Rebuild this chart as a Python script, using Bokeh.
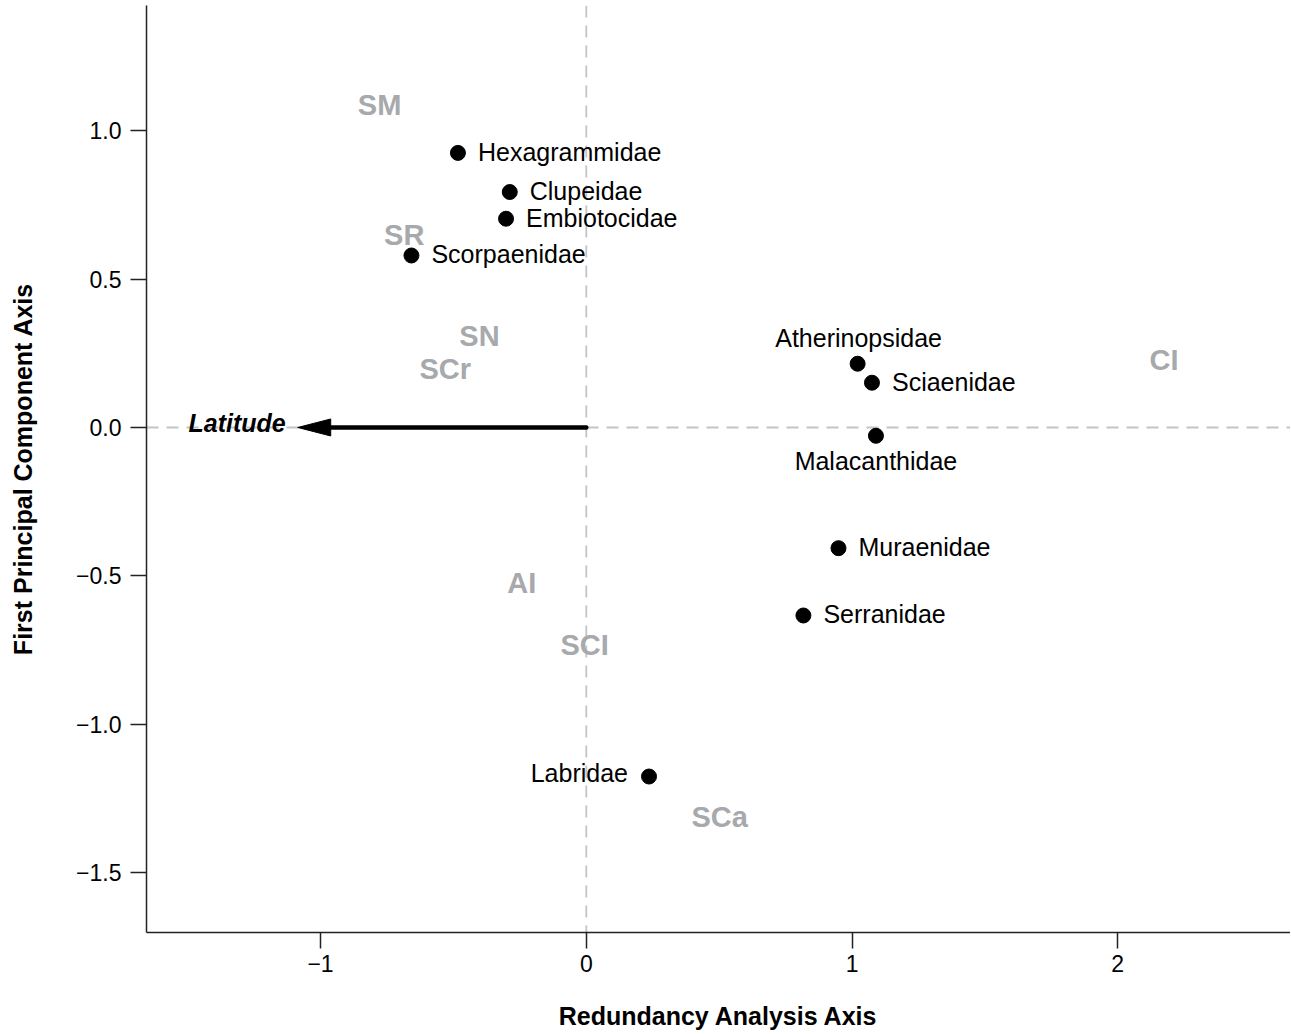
from bokeh.plotting import figure
from bokeh.models import ColumnDataSource, Range1d, FixedTicker, Span
from bokeh.core.properties import value
from bokeh.embed import file_html
from bokeh.resources import INLINE

# ---------------- data ----------------
species = ["Hexagrammidae", "Clupeidae", "Embiotocidae", "Scorpaenidae",
           "Atherinopsidae", "Sciaenidae", "Malacanthidae", "Muraenidae",
           "Serranidae", "Labridae"]
species_x = [-0.483, -0.288, -0.302, -0.658, 1.021, 1.075, 1.090, 0.949, 0.817, 0.236]
species_y = [0.926, 0.794, 0.704, 0.580, 0.215, 0.151, -0.028, -0.407, -0.634, -1.177]
species_pos = ["right", "right", "right", "right", "above", "right", "below",
               "right", "right", "left"]

sites = ["SM", "SR", "SN", "SCr", "CI", "AI", "SCI", "SCa"]
site_x = [-0.778, -0.685, -0.402, -0.531, 2.174, -0.243, -0.006, 0.502]
site_y = [1.086, 0.648, 0.310, 0.197, 0.226, -0.526, -0.735, -1.314]

latitude_x = [-1.086]
latitude_y = [0.0]
latitude_label = ["Latitude"]

x_ticks = [-1, 0, 1, 2]
x_tick_labels = ["\u22121", "0", "1", "2"]
y_ticks = [-1.5, -1.0, -0.5, 0.0, 0.5, 1.0]
y_tick_labels = ["\u22121.5", "\u22121.0", "\u22120.5", "0.0", "0.5", "1.0"]

# ---------------- layout ----------------
W, H = 1290, 1032
BL, BR, BT, BB = 146, 0, 5, 100
X0, X1 = -1.655, 2.650
Y0, Y1 = -1.703, 1.423
FONT = "Liberation Sans"
GREY = "#a7a9ac"

p = figure(width=W, height=H, output_backend="svg", toolbar_location=None,
           x_range=Range1d(X0, X1), y_range=Range1d(Y0, Y1),
           min_border_left=BL, min_border_right=BR, min_border_top=BT,
           min_border_bottom=BB)
p.outline_line_color = None
p.xgrid.visible = False
p.ygrid.visible = False
p.background_fill_color = "white"
p.border_fill_color = "white"

for ax in (p.xaxis[0], p.yaxis[0]):
    ax.axis_line_color = "#222222"
    ax.axis_line_width = 1.5
    ax.major_tick_line_color = "#222222"
    ax.major_tick_line_width = 1.5
    ax.major_tick_out = 16
    ax.major_tick_in = 0
    ax.minor_tick_line_color = None
    ax.major_label_text_font = FONT
    ax.major_label_text_font_size = "23px"
    ax.major_label_text_color = "black"
    ax.axis_label_text_font = FONT
    ax.axis_label_text_font_size = "25px"
    ax.axis_label_text_font_style = "bold"
    ax.axis_label_text_color = "black"

p.xaxis.ticker = FixedTicker(ticks=x_ticks)
p.xaxis.major_label_overrides = dict(zip(x_ticks, x_tick_labels))
p.yaxis.ticker = FixedTicker(ticks=y_ticks)
p.yaxis.major_label_overrides = dict(zip(y_ticks, y_tick_labels))
p.xaxis.axis_label = "Redundancy Analysis Axis"
p.yaxis.axis_label = "First Principal Component Axis"
p.xaxis.major_label_standoff = 6
p.yaxis.major_label_standoff = 9
p.xaxis.axis_label_standoff = 27
p.yaxis.axis_label_standoff = 36

# dashed zero lines (beneath the data)
for dim in ("height", "width"):
    p.add_layout(Span(location=0, dimension=dim, line_color="#c4c4c4",
                      line_width=1.8, line_dash="12 8", level="underlay"))

# latitude arrow (head size in pixels, converted through the scales)
frame_w = W - BL - BR
frame_h = H - BT - BB
xpu = frame_w / (X1 - X0)
ypu = frame_h / (Y1 - Y0)
head_len = 33 / xpu
head_hw = 8.5 / ypu
lx, ly = latitude_x[0], latitude_y[0]
p.segment(x0=[0], y0=[0], x1=[lx + head_len * 0.9], y1=[ly],
          line_color="black", line_width=4.5, line_cap="round")
p.patch(x=[lx, lx + head_len, lx + head_len], y=[ly, ly + head_hw, ly - head_hw],
        fill_color="black", line_color="black", line_width=1)
p.text(x=latitude_x, y=latitude_y, text=latitude_label, x_offset=-12, y_offset=-4,
       text_align="right", text_baseline="middle", text_font=value(FONT),
       text_font_size="25px", text_font_style="bold italic", text_color="black")

# site labels
p.text(x=site_x, y=site_y, text=sites, text_align="center", text_baseline="middle",
       text_font=value(FONT), text_font_size="29px",
       text_font_style="bold", text_color=GREY)

# species points
p.scatter(x=species_x, y=species_y, size=15, fill_color="black", line_color="black")

offsets = {"right": ("left", 20, -1), "left": ("right", -21, -4),
           "above": ("center", 1, -26), "below": ("center", 0, 25)}
for pos, (align, dx, dy) in offsets.items():
    idx = [i for i, q in enumerate(species_pos) if q == pos]
    if not idx:
        continue
    src = ColumnDataSource(dict(x=[species_x[i] for i in idx],
                                y=[species_y[i] for i in idx],
                                t=[species[i] for i in idx]))
    p.text(x="x", y="y", text="t", source=src, x_offset=dx, y_offset=dy,
           text_align=align, text_baseline="middle", text_font=value(FONT),
           text_font_size="25px", text_color="black")

open("out.html", "w").write(file_html(p, INLINE))
